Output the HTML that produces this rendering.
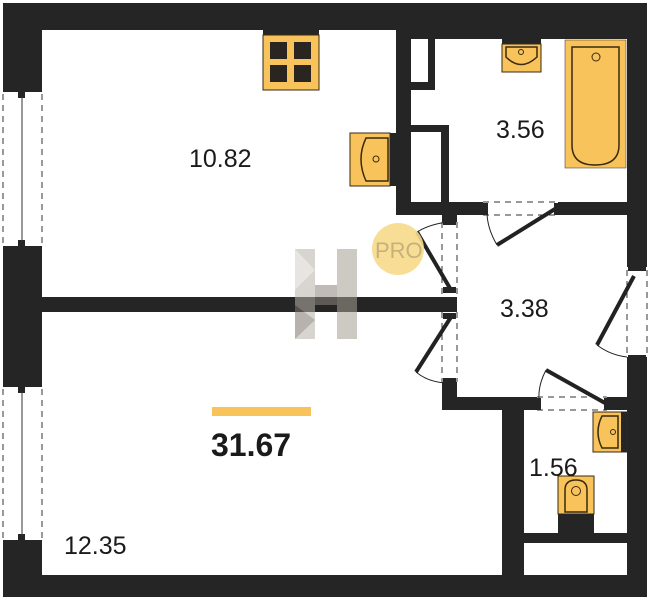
<!DOCTYPE html>
<html><head><meta charset="utf-8"><style>
html,body{margin:0;padding:0;background:#fff;width:651px;height:600px;overflow:hidden}
svg{display:block}
text{font-family:"Liberation Sans",sans-serif;fill:#1a1a1a}
</style></head><body>
<svg width="651" height="600" viewBox="0 0 651 600" xmlns="http://www.w3.org/2000/svg">
<rect x="3" y="3" width="644" height="594" fill="#252525"/>
<!-- kitchen -->
<rect x="42" y="30" width="354" height="267" fill="#fff"/>
<rect x="396" y="215" width="46" height="82" fill="#fff"/>
<!-- living -->
<rect x="42" y="312" width="400" height="263" fill="#fff"/>
<rect x="442" y="410" width="60" height="165" fill="#fff"/>
<!-- bath -->
<rect x="435" y="39" width="192" height="86" fill="#fff"/>
<rect x="449" y="39" width="178" height="163" fill="#fff"/>
<rect x="411" y="90" width="40" height="35" fill="#fff"/>
<rect x="411" y="39" width="17" height="43" fill="#fff"/>
<rect x="411" y="132" width="30" height="70" fill="#fff"/>
<!-- hall -->
<rect x="457" y="215" width="170" height="182" fill="#fff"/>
<!-- toilet -->
<rect x="524" y="410" width="103" height="123" fill="#fff"/>
<rect x="524" y="543" width="103" height="32" fill="#fff"/>
<!-- openings -->
<rect x="3" y="90" width="39" height="158" fill="#fff"/>
<rect x="3" y="385" width="39" height="158" fill="#fff"/>
<rect x="442" y="222" width="15" height="75" fill="#fff"/>
<rect x="442" y="312" width="15" height="70" fill="#fff"/>
<rect x="483" y="202" width="75" height="13" fill="#fff"/>
<rect x="537" y="397" width="70" height="13" fill="#fff"/>
<rect x="627" y="267" width="20" height="90" fill="#fff"/>
<g stroke="#333" stroke-width="1" stroke-dasharray="6,5" fill="none">
<line x1="3" y1="94" x2="3" y2="244"/><line x1="42" y1="94" x2="42" y2="244"/>
<line x1="3" y1="389" x2="3" y2="539"/><line x1="42" y1="389" x2="42" y2="539"/>
<line x1="442" y1="222" x2="442" y2="297"/><line x1="457" y1="222" x2="457" y2="297"/>
<line x1="442" y1="312" x2="442" y2="382"/><line x1="457" y1="312" x2="457" y2="382"/>
<line x1="483" y1="202" x2="558" y2="202"/><line x1="483" y1="215" x2="558" y2="215"/>
<line x1="537" y1="397" x2="607" y2="397"/><line x1="537" y1="410" x2="607" y2="410"/>
<line x1="627" y1="270" x2="627" y2="355"/><line x1="647" y1="270" x2="647" y2="355"/>
</g>
<g fill="#252525">
<rect x="3" y="88" width="39" height="4"/><rect x="18" y="92" width="7" height="6"/>
<rect x="3" y="246" width="39" height="4"/><rect x="18" y="240" width="7" height="6"/>
<rect x="3" y="383" width="39" height="4"/><rect x="18" y="387" width="7" height="6"/>
<rect x="3" y="540" width="39" height="4"/><rect x="18" y="534" width="7" height="6"/>
</g>
<line x1="22" y1="96" x2="22" y2="242" stroke="#333"/>
<line x1="22" y1="391" x2="22" y2="536" stroke="#333"/>
<g stroke="#222" stroke-width="4" fill="none">
<line x1="417" y1="232" x2="451" y2="290"/>
<line x1="451" y1="317" x2="416" y2="372"/>
<line x1="555" y1="209" x2="497" y2="245"/>
<line x1="634" y1="276" x2="597" y2="345"/>
<line x1="605" y1="403" x2="546" y2="370"/>
</g>
<g stroke="#222" stroke-width="1" fill="none">
<path d="M417 232 Q430 224 448 222"/>
<path d="M416 372 Q428 382 446 383"/>
<path d="M497 245 Q487 228 487 212"/>
<path d="M597 345 Q610 355 627 357"/>
<path d="M546 370 Q538 385 539 400"/>
</g>
<g fill="#252525">
<rect x="443" y="219" width="13" height="6"/><rect x="443" y="287" width="13" height="6"/>
<rect x="443" y="313" width="13" height="6"/><rect x="443" y="378" width="13" height="6"/>
<rect x="482" y="203" width="6" height="12"/><rect x="554" y="203" width="6" height="12"/>
<rect x="535" y="398" width="6" height="12"/><rect x="604" y="398" width="6" height="12"/>
<rect x="628" y="266" width="18" height="5"/><rect x="628" y="355" width="18" height="5"/>
</g>
<rect x="263" y="30" width="56" height="5" fill="#252525"/>
<rect x="263" y="35" width="56" height="55" fill="#f7c35a" stroke="#3a2a10" stroke-width="1"/>
<g fill="#2a2520"><rect x="270" y="42" width="17" height="17"/><rect x="294" y="42" width="17" height="17"/><rect x="270" y="65" width="17" height="17"/><rect x="294" y="65" width="17" height="17"/></g>
<rect x="350" y="133" width="40" height="53" fill="#f7c35a" stroke="#3a2a10"/>
<rect x="390" y="133" width="6" height="53" fill="#252525"/>
<path d="M388 138 H366 Q356 159 366 181 H388 Z" fill="none" stroke="#3a2a10" stroke-width="1.5"/>
<circle cx="376" cy="159" r="3" fill="none" stroke="#3a2a10"/>
<rect x="502" y="39" width="39" height="5" fill="#252525"/>
<rect x="502" y="44" width="39" height="28" fill="#f7c35a" stroke="#3a2a10"/>
<path d="M506 47 H537 V57 Q521 72 506 57 Z" fill="none" stroke="#3a2a10" stroke-width="1.5"/>
<circle cx="521" cy="52" r="2.5" fill="none" stroke="#3a2a10"/>
<rect x="565" y="40" width="61" height="128" fill="#f7c35a" stroke="#3a2a10" stroke-width="0.5"/>
<path d="M572 47 H619 V145 Q619 165 595 165 Q572 165 572 145 Z" fill="none" stroke="#3a2a10" stroke-width="1.5"/>
<circle cx="596" cy="57" r="4" fill="none" stroke="#3a2a10"/>
<rect x="593" y="412" width="34" height="40" fill="#f7c35a" stroke="#3a2a10"/>
<rect x="621" y="412" width="6" height="40" fill="#252525"/>
<path d="M618 416 H602 Q594 432 602 448 H618 Z" fill="none" stroke="#3a2a10" stroke-width="1.5"/>
<circle cx="613" cy="432" r="2.5" fill="none" stroke="#3a2a10"/>
<rect x="558" y="476" width="36" height="38" fill="#f7c35a" stroke="#3a2a10"/>
<rect x="558" y="514" width="36" height="20" fill="#252525"/>
<path d="M565 512 V490 Q565 480 576 480 Q587 480 587 490 V512 Z" fill="none" stroke="#3a2a10" stroke-width="1.5"/>
<circle cx="576" cy="491" r="4.5" fill="none" stroke="#3a2a10"/>
<circle cx="398" cy="249" r="26" fill="#f7d98a" opacity="0.9"/>
<text x="375" y="258" font-size="22" style="fill:#c8b07a">PRO</text>
<g opacity="0.55">
<rect x="295" y="249" width="20" height="90" fill="#b9b2aa"/>
<rect x="337" y="249" width="20" height="90" fill="#a59d93"/>
<polygon points="315,285 337,285 337,305 315,305" fill="#8d857b"/>
<polygon points="295,249 315,270 295,290" fill="#d5d0ca"/>
<polygon points="295,305 315,320 295,339" fill="#7d756b"/>
</g>
<text x="189" y="167" font-size="25">10.82</text>
<text x="496" y="138" font-size="25">3.56</text>
<text x="500" y="317" font-size="25">3.38</text>
<text x="529" y="476" font-size="25">1.56</text>
<text x="64" y="554" font-size="25">12.35</text>
<rect x="212" y="407" width="99" height="9" fill="#f7c35a"/>
<text x="211" y="456" font-size="32" font-weight="bold">31.67</text>
</svg>
</body></html>
